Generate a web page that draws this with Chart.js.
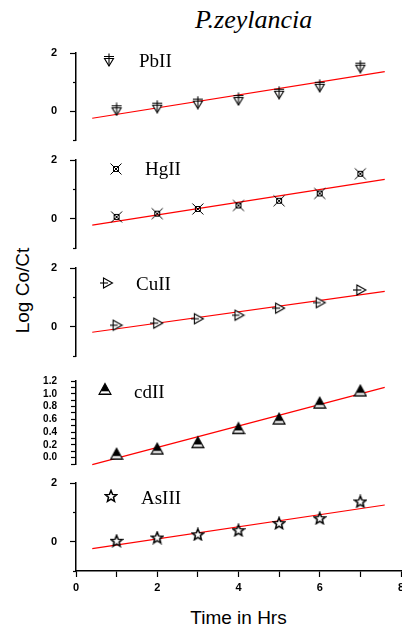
<!DOCTYPE html>
<html>
<head>
<meta charset="utf-8">
<title>P.zeylancia</title>
<script src="https://cdn.jsdelivr.net/npm/chart.js@4.4.0/dist/chart.umd.min.js"></script>
<style>
    body { margin: 0; background: #fff; }
    #page { position: relative; width: 402px; height: 630px; overflow: hidden; background: #fff; }
    #page canvas { position: absolute; left: 0; }
    #title { position: absolute; left: 195px; top: 7px; font: italic 26px "Liberation Serif", serif; line-height: 26px; color: #000; white-space: nowrap; }
    #xTitle { position: absolute; left: 138px; width: 201px; top: 608px; text-align: center; font: 19px "Liberation Sans", Arial, sans-serif; line-height: 19px; color: #000; }
    #yTitle { position: absolute; left: -78px; width: 200px; top: 281px; text-align: center; font: 19px "Liberation Sans", Arial, sans-serif; line-height: 19px; color: #000; transform: rotate(-90deg); }
</style>
</head>
<body>
<div id="page">
    <div id="title">P.zeylancia</div>
    <div id="yTitle">Log Co/Ct</div>
    <div id="xTitle">Time in Hrs</div>
</div>
<script>
const hours = [1, 2, 3, 4, 5, 6, 7];
const pbValues = [0.06, 0.15, 0.29, 0.41, 0.63, 0.87, 1.53];
const hgValues = [0.06, 0.17, 0.33, 0.45, 0.61, 0.86, 1.53];
const cuValues = [0.05, 0.12, 0.27, 0.39, 0.63, 0.82, 1.25];
const cdValues = [0.06, 0.14, 0.24, 0.46, 0.61, 0.86, 1.05];
const asValues = [0.03, 0.14, 0.25, 0.39, 0.63, 0.80, 1.37];

// fitted lines, start and end
const fitHours = [0.4, 7.6];
const pbFit = [-0.25, 1.36];
const hgFit = [-0.22, 1.34];
const cuFit = [-0.19, 1.20];
const cdFit = [-0.11, 1.10];
const asFit = [-0.24, 1.25];

const xTickValues = [0, 1, 2, 3, 4, 5, 6, 7, 8];
const xTickLabels = [0, 2, 4, 6, 8];
const yTickValues = [-1, 0, 1, 2];
const yTickLabels = [0, 2];
const cdTickValues = [-0.1, 0, 0.1, 0.2, 0.3, 0.4, 0.5, 0.6, 0.7, 0.8, 0.9, 1.0, 1.1, 1.2];
const cdTickLabels = [0, 0.2, 0.4, 0.6, 0.8, 1.0, 1.2];

const PAD_TOP = 26;
const PAD_BOTTOM = 26;
const X_AXIS_HEIGHT = 40;

const panelSettings = [
    { name: 'PbII', values: pbValues, fit: pbFit, marker: 'pb', top: 53, height: 87,
      ticks: yTickValues, labels: yTickLabels, legend: { mx: 33, my: 7, tx: 63, ty: 13.7 } },
    { name: 'HgII', values: hgValues, fit: hgFit, marker: 'hg', top: 160, height: 88,
      ticks: yTickValues, labels: yTickLabels, legend: { mx: 40, my: 9, tx: 69, ty: 15 } },
    { name: 'CuII', values: cuValues, fit: cuFit, marker: 'cu', top: 268, height: 88,
      ticks: yTickValues, labels: yTickLabels, legend: { mx: 31, my: 14.7, tx: 60, ty: 22 } },
    { name: 'cdII', values: cdValues, fit: cdFit, marker: 'cd', top: 381, height: 83,
      ticks: cdTickValues, labels: cdTickLabels, digits: 1, fontSize: 10, tickLength: 5, minorLength: 0,
      legend: { mx: 29, my: 8.3, tx: 58, ty: 16.7 } },
    { name: 'AsIII', values: asValues, fit: asFit, marker: 'as', top: 483, height: 88, showX: true,
      ticks: yTickValues, labels: yTickLabels, legend: { mx: 35, my: 13, tx: 65, ty: 21 } }
];

const markers = {};

function hasLabel(list, value) {
    return list.some(v => Math.abs(v - value) < 1e-6);
}

function makeMarker(kind) {
    const c = document.createElement('canvas');
    c.width = 14;
    c.height = 14;
    const g = c.getContext('2d');
    g.strokeStyle = '#000';
    g.fillStyle = '#fff';
    g.lineWidth = 1.1;
    g.lineJoin = 'miter';

    if (kind === 'pb') {
        g.beginPath();
        g.moveTo(2.5, 5.5); g.lineTo(11.5, 5.5); g.lineTo(7, 13); g.closePath();
        g.fill(); g.stroke();
        g.beginPath();
        g.moveTo(7, 0.5); g.lineTo(7, 13);
        g.moveTo(2, 3.5); g.lineTo(12, 3.5);
        g.stroke();
    } else if (kind === 'hg') {
        g.lineWidth = 1;
        g.strokeRect(4.5, 4.5, 5, 5);
        g.beginPath();
        g.moveTo(1.5, 1.5); g.lineTo(12.5, 12.5);
        g.moveTo(12.5, 1.5); g.lineTo(1.5, 12.5);
        g.stroke();
    } else if (kind === 'cu') {
        g.beginPath();
        g.moveTo(3.5, 2); g.lineTo(12.5, 7); g.lineTo(3.5, 12); g.closePath();
        g.fill(); g.stroke();
        g.beginPath();
        g.moveTo(0, 7); g.lineTo(8, 7);
        g.stroke();
    } else if (kind === 'cd') {
        g.beginPath();
        g.moveTo(7, 1.5); g.lineTo(13, 12.5); g.lineTo(1, 12.5); g.closePath();
        g.fillStyle = '#000';
        g.fill();
        g.save();
        g.clip();
        g.fillStyle = '#fff';
        g.fillRect(0, 9.3, 14, 2.2);
        g.restore();
        g.stroke();
    } else if (kind === 'as') {
        g.lineWidth = 1.5;
        g.beginPath();
        for (let i = 0; i < 10; i++) {
            const r = i % 2 === 0 ? 6 : 2.6;
            const a = -Math.PI / 2 + i * Math.PI / 5;
            const px = 7 + r * Math.cos(a);
            const py = 7.5 + r * Math.sin(a);
            if (i === 0) g.moveTo(px, py); else g.lineTo(px, py);
        }
        g.closePath();
        g.fill(); g.stroke();
    }
    return c;
}

function initializeMarkers() {
    ['pb', 'hg', 'cu', 'cd', 'as'].forEach(kind => {
        markers[kind] = makeMarker(kind);
    });
}

const insideLegend = {
    id: 'insideLegend',
    afterDatasetsDraw(chart, args, opts) {
        const area = chart.chartArea;
        const ctx = chart.ctx;
        const img = markers[opts.marker];
        ctx.save();
        ctx.drawImage(img, Math.round(area.left + opts.mx - img.width / 2), Math.round(area.top + opts.my - img.height / 2));
        ctx.font = '19px "Liberation Serif", serif';
        ctx.fillStyle = '#000';
        ctx.textBaseline = 'alphabetic';
        ctx.fillText(opts.text, area.left + opts.tx, area.top + opts.ty);
        ctx.restore();
    }
};

const minorTicks = {
    id: 'minorTicks',
    afterDraw(chart, args, opts) {
        if (!opts.length) return;
        const scale = chart.scales.y;
        const ctx = chart.ctx;
        ctx.save();
        ctx.strokeStyle = '#000';
        ctx.lineWidth = 1.2;
        scale.ticks.forEach(t => {
            if (hasLabel(opts.labels, t.value)) return;
            const y = Math.round(scale.getPixelForValue(t.value)) + 0.5;
            ctx.beginPath();
            ctx.moveTo(scale.right - opts.length, y);
            ctx.lineTo(scale.right, y);
            ctx.stroke();
        });
        ctx.restore();
    }
};

function createPanel(p) {
    const page = document.getElementById('page');
    const canvas = document.createElement('canvas');
    canvas.width = 412;
    canvas.height = p.height + PAD_TOP + PAD_BOTTOM + (p.showX ? X_AXIS_HEIGHT : 0);
    canvas.style.top = (p.top - PAD_TOP) + 'px';
    page.appendChild(canvas);

    const digits = p.digits || 0;
    const tickLength = p.tickLength || 6;
    const minorLength = p.minorLength === undefined ? 3 : p.minorLength;

    const xScale = {
        type: 'linear',
        display: !!p.showX,
        min: 0,
        max: 8,
        afterBuildTicks: function(scale) { scale.ticks = xTickValues.map(v => ({ value: v })); },
        grid: { drawOnChartArea: false, drawTicks: true, tickLength: 6, tickColor: '#000', tickWidth: 1.2 },
        border: { display: true, color: '#000', width: 1.5 },
        ticks: {
            color: '#000',
            padding: 4,
            maxRotation: 0,
            autoSkip: false,
            font: { family: '"Liberation Sans", Arial, sans-serif', size: 11, weight: 'bold' },
            callback: value => hasLabel(xTickLabels, value) ? String(value) : ''
        }
    };
    if (p.showX) {
        xScale.afterFit = function(scale) { scale.height = X_AXIS_HEIGHT; };
    }

    const chart = new Chart(canvas.getContext('2d'), {
        data: {
            datasets: [{
                type: 'scatter',
                label: p.name,
                data: hours.map((x, i) => ({ x: x, y: p.values[i] })),
                pointStyle: markers[p.marker],
                pointRadius: 5,
                order: 1
            }, {
                type: 'line',
                label: p.name + ' fit',
                data: fitHours.map((x, i) => ({ x: x, y: p.fit[i] })),
                borderColor: '#ff0000',
                borderWidth: 1.2,
                pointRadius: 0,
                fill: false,
                clip: 6,
                order: 2
            }]
        },
        options: {
            responsive: false,
            maintainAspectRatio: false,
            animation: false,
            events: [],
            layout: { padding: { top: PAD_TOP, bottom: PAD_BOTTOM, left: 0, right: 11 } },
            scales: {
                x: xScale,
                y: {
                    type: 'linear',
                    min: p.ticks[0],
                    max: p.ticks[p.ticks.length - 1],
                    afterFit: function(scale) { scale.width = 76; },
                    afterBuildTicks: function(scale) { scale.ticks = p.ticks.map(v => ({ value: v })); },
                    grid: {
                        drawOnChartArea: false,
                        drawTicks: true,
                        tickLength: tickLength,
                        tickWidth: 1.2,
                        tickColor: ctx => (minorLength && !hasLabel(p.labels, ctx.tick.value)) ? 'rgba(0,0,0,0)' : '#000'
                    },
                    border: { display: true, color: '#000', width: 1.5 },
                    ticks: {
                        color: '#000',
                        padding: 19 - tickLength,
                        autoSkip: false,
                        font: { family: '"Liberation Sans", Arial, sans-serif', size: p.fontSize || 11, weight: 'bold' },
                        callback: value => hasLabel(p.labels, value) ? (Math.round(value * 10) / 10).toFixed(digits) : ''
                    }
                }
            },
            plugins: {
                legend: { display: false },
                tooltip: { enabled: false },
                insideLegend: { marker: p.marker, text: p.name, mx: p.legend.mx, my: p.legend.my, tx: p.legend.tx, ty: p.legend.ty },
                minorTicks: { length: minorLength, labels: p.labels }
            }
        },
        plugins: [insideLegend, minorTicks]
    });

    // keep the plot area on the wanted pixel row
    canvas.style.top = (p.top - chart.chartArea.top) + 'px';
    return chart;
}

function initializePanels() {
    panelSettings.forEach(p => createPanel(p));
}

document.addEventListener('DOMContentLoaded', function() {
    initializeMarkers();
    initializePanels();
});
</script>
</body>
</html>
